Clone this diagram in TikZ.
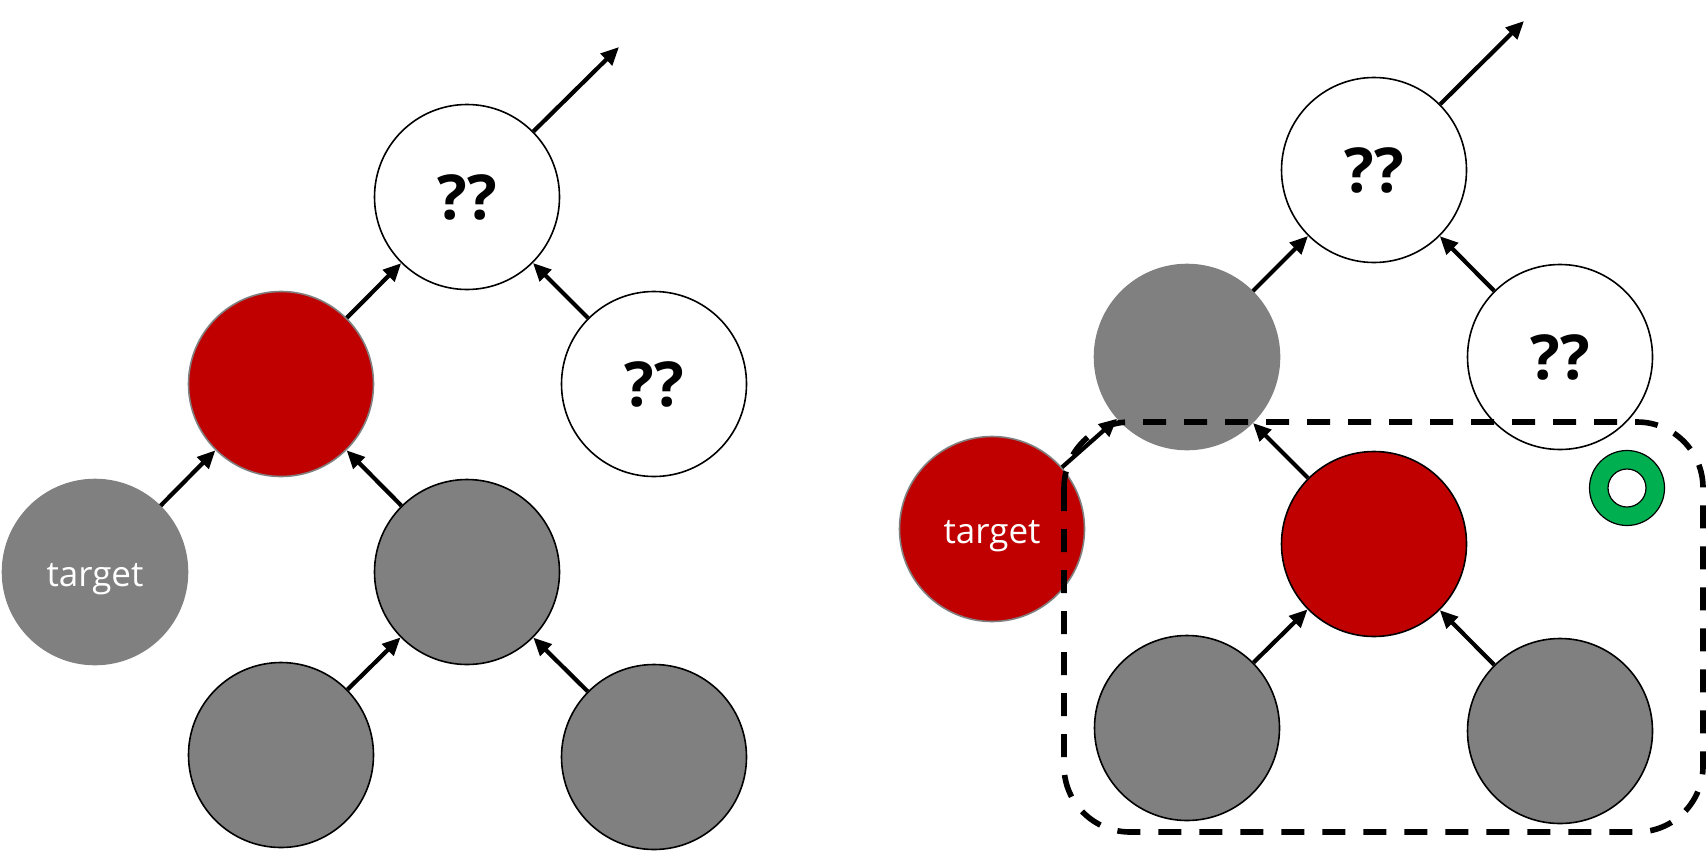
\documentclass[tikz,border=0pt]{standalone}
\usepackage{fontspec}
\setmainfont{Open Sans}
\usetikzlibrary{arrows.meta}
\definecolor{pred}{HTML}{C00000}
\definecolor{pgray}{HTML}{808080}
\definecolor{pgreen}{HTML}{00B050}
\tikzset{
  nd/.style={circle, minimum size=92.5pt, inner sep=0pt, line width=0.8pt},
  wnode/.style={nd, fill=white, draw=black, font=\bfseries\fontsize{31}{31}\selectfont},
  gnode/.style={nd, fill=pgray, draw=black},
  gnodeN/.style={nd, fill=pgray, draw=pgray},
  rnode/.style={nd, fill=pred, draw=black},
  rnodeG/.style={nd, fill=pred, draw=pgray},
  lbl/.style={text=white, font=\fontsize{17.5}{17.5}\selectfont, text depth=0pt, yshift=-1.5pt},
  arr/.style={line width=2.1pt, -{Triangle[length=9pt,width=8pt]}},
  region/.style={draw=black, dash pattern=on 11.5pt off 9pt, line width=2.8pt, rounded corners=33pt}
}
\begin{document}
\begin{tikzpicture}[x=0.5pt,y=-0.5pt]
\useasboundingbox (0,0) rectangle (1706,851);
% left tree
\node[wnode] (LT) at (467,197) {??};
\node[wnode] (LR) at (654,384) {??};
\node[rnodeG] (LM) at (281,384) {};
\node[gnodeN] (LX) at (95,572) {};
\node[lbl] (LXt) at (LX.center) {target};
\node[gnode] (LG) at (467,572) {};
\node[gnode] (LB1) at (281,755) {};
\node[gnode] (LB2) at (654,757) {};
\coordinate (LO) at (619,47);
\draw[arr] (LT) -- (LO);
\draw[arr] (LM) -- (LT);
\draw[arr] (LR) -- (LT);
\draw[arr] (LX) -- (LM);
\draw[arr] (LG) -- (LM);
\draw[arr] (LB1) -- (LG);
\draw[arr] (LB2) -- (LG);
% right tree
\node[wnode] (RT) at (1374,170) {??};
\node[wnode] (RR) at (1560,357) {??};
\node[gnodeN] (RM) at (1187,357) {};
\node[rnodeG] (RX) at (992,529) {};
\node[lbl] (RXt) at (RX.center) {target};
\node[rnode] (RC) at (1374,544) {};
\node[gnode] (RB1) at (1187,728) {};
\node[gnode] (RB2) at (1560,731) {};
\coordinate (RO) at (1524,21);
\draw[arr] (RT) -- (RO);
\draw[arr] (RM) -- (RT);
\draw[arr] (RR) -- (RT);
\draw[arr] (RX) -- (RM);
\draw[arr] (RC) -- (RM);
\draw[arr] (RB1) -- (RC);
\draw[arr] (RB2) -- (RC);
% green ring
\node[circle, minimum size=37.5pt, inner sep=0pt, fill=pgreen, draw=black, line width=0.6pt] (ring) at (1627,488) {};
\node[circle, minimum size=19pt, inner sep=0pt, fill=white, draw=black, line width=0.6pt] (ringin) at (ring.center) {};
% dashed region
\draw[region] (1064,422) rectangle (1703,832);
\end{tikzpicture}
\end{document}
